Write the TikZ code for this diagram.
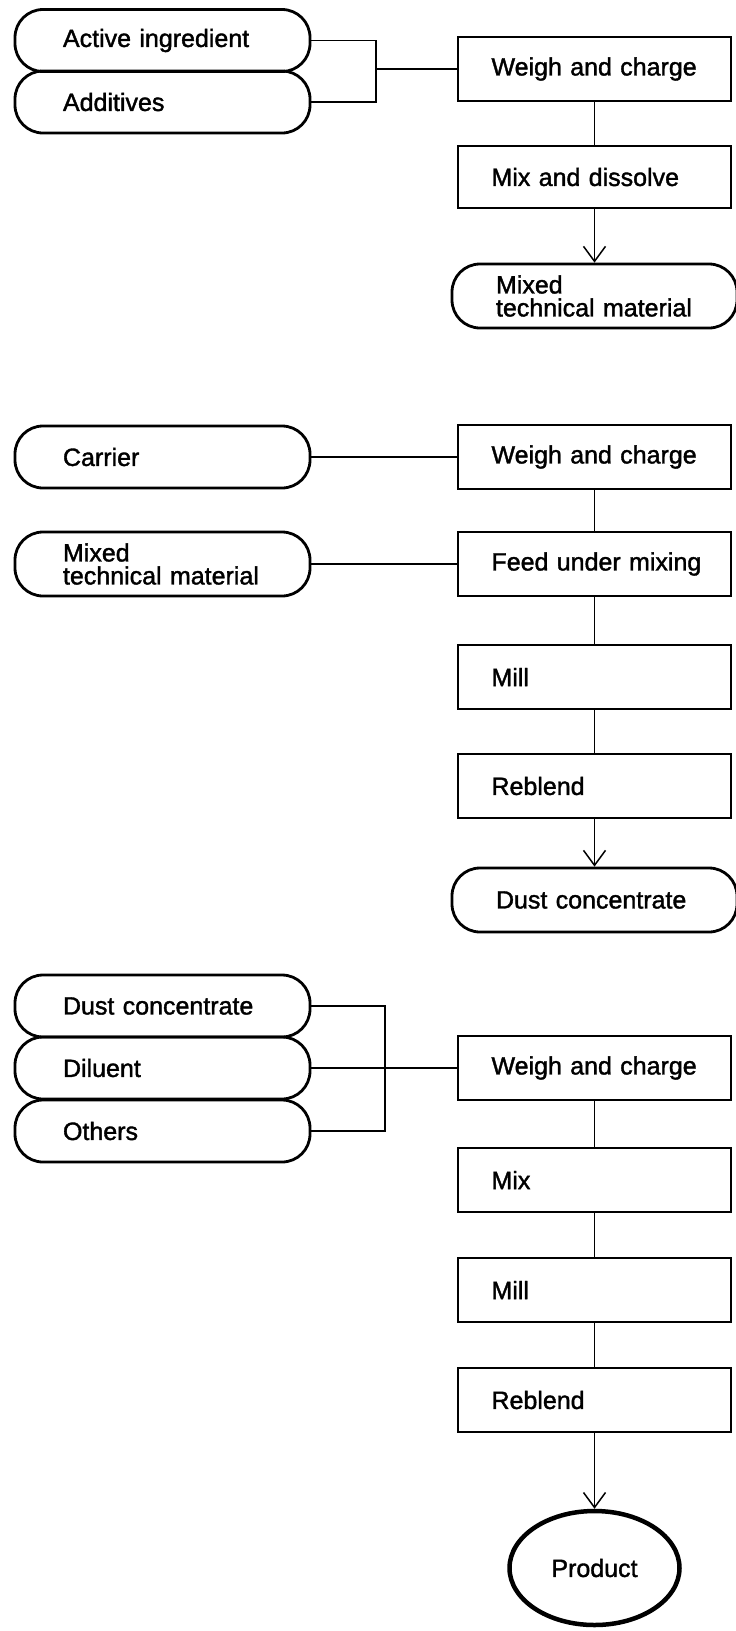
\documentclass[tikz,border=0pt]{standalone}
\usepackage{fontspec}
\setmainfont{Liberation Sans}[FakeBold=1.5]
\usetikzlibrary{arrows.meta,shapes.geometric}
\begin{document}
\begin{tikzpicture}[x=1pt,y=-1pt,
  font=\fontsize{25}{23}\selectfont,
  stepbox/.style={draw, line width=2.6pt, minimum height=64pt, text width=206pt,
    inner xsep=33.5pt, inner ysep=0pt, align=left},
  pill/.style={draw, line width=2.8pt, rounded corners=28pt, minimum height=62pt,
    text width=199pt, inner xsep=48pt, inner ysep=0pt, align=left},
  outpill/.style={pill, text width=197pt, inner xsep=44pt, minimum height=64pt},
  conn/.style={line width=1.5pt},
  flow/.style={conn, -{Straight Barb[length=15pt,width=22pt,line width=1.5pt]}},
]
\useasboundingbox (0,0) rectangle (736,1631);

% ---- Stage 1: technical mix ----
\node[pill] (ai) at (162.5,40.5) {Active ingredient};
\node[pill] (ad) at (162.5,102) {Additives};
\node[stepbox] (wc1) at (594.5,69) {Weigh and charge};
\node[stepbox, minimum height=62pt] (md) at (594.5,177) {Mix and dissolve};
\node[outpill] (mtm1) at (594.5,296) {Mixed\\technical material};
\coordinate (br1) at (376,69);
\draw[conn] (ai.east) -| (br1 |- ad.east) -- (ad.east);
\draw[conn] (br1) -- (wc1.west);
\draw[conn] (wc1.south) -- (md.north);
\draw[flow] (md.south) -- (mtm1.north);

% ---- Stage 2: dust concentrate ----
\node[pill] (car) at (162.5,457) {Carrier};
\node[stepbox] (wc2) at (594.5,457) {Weigh and charge};
\node[pill, minimum height=64pt] (mtm2) at (162.5,564) {Mixed\\technical material};
\node[stepbox] (fum) at (594.5,564) {\mbox{Feed under mixing}};
\node[stepbox] (mill2) at (594.5,677) {Mill};
\node[stepbox] (reb2) at (594.5,786) {Reblend};
\node[outpill] (dc2) at (594.5,900) {Dust concentrate};
\draw[conn] (car.east) -- (wc2.west);
\draw[conn] (mtm2.east) -- (fum.west);
\draw[conn] (wc2.south) -- (fum.north);
\draw[conn] (fum.south) -- (mill2.north);
\draw[conn] (mill2.south) -- (reb2.north);
\draw[flow] (reb2.south) -- (dc2.north);

% ---- Stage 3: final dust ----
\node[pill] (dc3) at (162.5,1006) {Dust concentrate};
\node[pill] (dil) at (162.5,1068) {Diluent};
\node[pill] (oth) at (162.5,1131) {Others};
\node[stepbox] (wc3) at (594.5,1068) {Weigh and charge};
\node[stepbox] (mix3) at (594.5,1180) {Mix};
\node[stepbox] (mill3) at (594.5,1290) {Mill};
\node[stepbox] (reb3) at (594.5,1400) {Reblend};
\node[draw, ellipse, line width=4.5pt, minimum width=170pt, minimum height=114pt,
  inner sep=0pt] (prod) at (594.5,1568) {Product};
\coordinate (br3) at (385,1068);
\draw[conn] (dc3.east) -| (br3 |- oth.east) -- (oth.east);
\draw[conn] (dil.east) -- (wc3.west);
\draw[conn] (wc3.south) -- (mix3.north);
\draw[conn] (mix3.south) -- (mill3.north);
\draw[conn] (mill3.south) -- (reb3.north);
\draw[flow] (reb3.south) -- (prod.north);
\end{tikzpicture}
\end{document}
